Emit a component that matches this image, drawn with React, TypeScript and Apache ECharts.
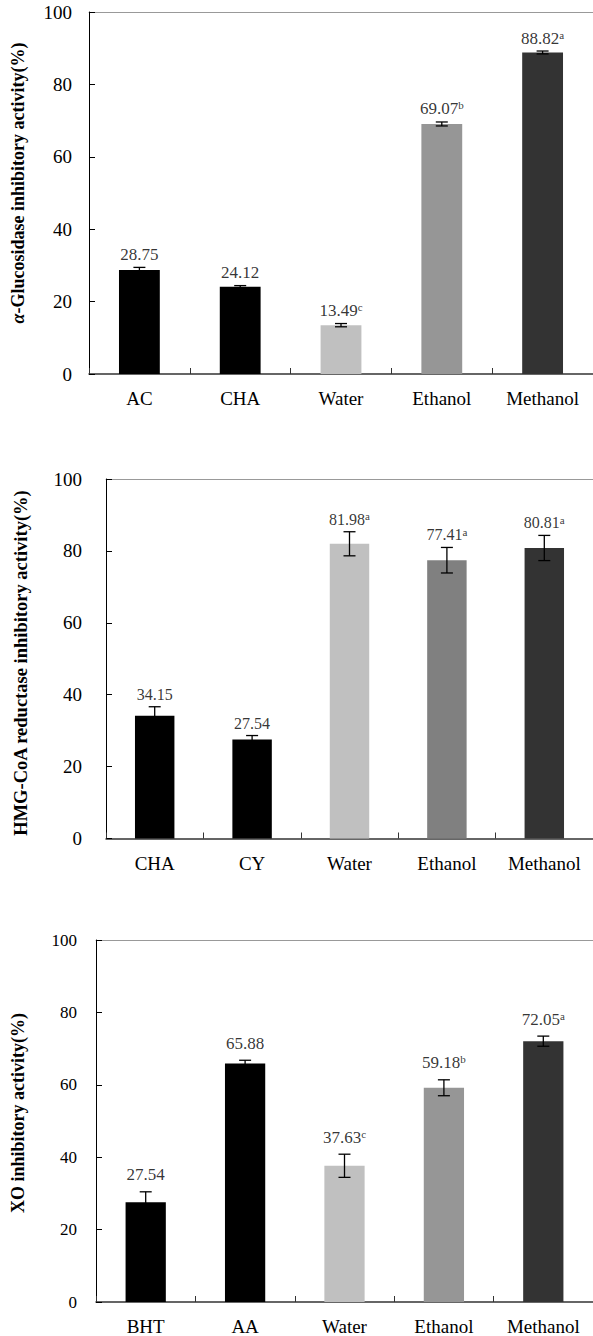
import React, { useEffect, useRef } from "react";
import * as echarts from "echarts";

// ---------- Data ----------
const cats1 = ["AC", "CHA", "Water", "Ethanol", "Methanol"];
const vals1 = [28.75, 24.12, 13.49, 69.07, 88.82];
const errs1 = [0.7, 0.3, 0.45, 0.55, 0.4];
const sups1 = ["", "", "c", "b", "a"];

const cats2 = ["CHA", "CY", "Water", "Ethanol", "Methanol"];
const vals2 = [34.15, 27.54, 81.98, 77.41, 80.81];
const errs2 = [2.5, 1.1, 3.35, 3.55, 3.5];
const sups2 = ["", "", "a", "a", "a"];

const cats3 = ["BHT", "AA", "Water", "Ethanol", "Methanol"];
const vals3 = [27.54, 65.88, 37.63, 59.18, 72.05];
const errs3 = [2.9, 0.9, 3.2, 2.2, 1.4];
const sups3 = ["", "", "c", "b", "a"];

const yTicks = [0, 20, 40, 60, 80, 100];

const titles = [
  "{i|α}-Glucosidase inhibitory activity(%)",
  "HMG-CoA reductase inhibitory activity(%)",
  "XO inhibitory activity(%)",
];

// ---------- Styles ----------
const SERIF = "'Liberation Serif', 'Times New Roman', serif";
const colors1 = ["#000000", "#000000", "#c0c0c0", "#969696", "#333333"];
const colors2 = ["#000000", "#000000", "#c0c0c0", "#808080", "#333333"];
const colors3 = ["#000000", "#000000", "#c0c0c0", "#969696", "#333333"];

const panels = [
  { cats: cats1, vals: vals1, errs: errs1, sups: sups1, colors: colors1,
    grid: { left: 89, top: 12, width: 505, height: 362 },
    tickFont: 19, tickMargin: 17, valFont: 17, labelDist: 4,
    title: { x: 17.5, y: 183, size: 18 } },
  { cats: cats2, vals: vals2, errs: errs2, sups: sups2, colors: colors2,
    grid: { left: 106, top: 479, width: 490, height: 359.5 },
    tickFont: 19, tickMargin: 24, valFont: 16, labelDist: 4,
    title: { x: 20.5, y: 663, size: 18.5 } },
  { cats: cats3, vals: vals3, errs: errs3, sups: sups3, colors: colors3,
    grid: { left: 96, top: 940, width: 501, height: 363.3 },
    tickFont: 17, tickMargin: 19, valFont: 17, labelDist: 8,
    title: { x: 17.5, y: 1113, size: 18 } },
];

export default function App() {
  const ref = useRef<HTMLDivElement>(null);

  useEffect(() => {
    if (!ref.current) return;
    const chart = echarts.init(ref.current, undefined, { renderer: "svg" });

    const grid: any[] = [];
    const xAxis: any[] = [];
    const yAxis: any[] = [];
    const series: any[] = [];
    const graphic: any[] = [];

    panels.forEach((p, k) => {
      grid.push({ ...p.grid, containLabel: false });
      xAxis.push({
        type: "category",
        gridIndex: k,
        data: p.cats,
        position: "bottom",
        axisLine: { show: true, lineStyle: { color: "#333333", width: 1.5 } },
        axisTick: { show: true, inside: true, length: 6, lineStyle: { color: "#333333", width: 1 } },
        axisLabel: { margin: 15, fontSize: 19, color: "#000", fontFamily: SERIF },
        splitLine: { show: false },
      });
      xAxis.push({
        type: "category",
        gridIndex: k,
        data: p.cats,
        position: "top",
        axisLine: { show: true, lineStyle: { color: "#999999", width: 1 } },
        axisTick: { show: false },
        axisLabel: { show: false },
        splitLine: { show: false },
      });
      yAxis.push({
        type: "value",
        gridIndex: k,
        min: yTicks[0],
        max: yTicks[yTicks.length - 1],
        interval: yTicks[1] - yTicks[0],
        axisLine: { show: true, lineStyle: { color: "#000", width: 1 } },
        axisTick: { show: true, inside: true, length: 6, lineStyle: { color: "#000", width: 1 } },
        axisLabel: { margin: p.tickMargin, fontSize: p.tickFont, color: "#000", fontFamily: SERIF },
        splitLine: { show: false },
      });

      const xi = k * 2;
      series.push({
        type: "bar",
        xAxisIndex: xi,
        yAxisIndex: k,
        data: p.vals,
        barWidth: "40.5%",
        itemStyle: { color: (q: any) => p.colors[q.dataIndex] },
        silent: true,
        z: 2,
      });
      series.push({
        type: "custom",
        xAxisIndex: xi,
        yAxisIndex: k,
        data: p.vals.map((v, i) => [i, v, p.errs[i]]),
        encode: { x: 0, y: 1 },
        z: 3,
        silent: true,
        renderItem: (params: any, api: any) => {
          const x = api.value(0);
          const v = api.value(1);
          const e = api.value(2);
          const t = api.coord([x, v + e]);
          const b = api.coord([x, v - e]);
          const hw = 6;
          const st = { stroke: "#000", lineWidth: 1.3 };
          return {
            type: "group",
            children: [
              { type: "line", shape: { x1: t[0], y1: t[1], x2: b[0], y2: b[1] }, style: st },
              { type: "line", shape: { x1: t[0] - hw, y1: t[1], x2: t[0] + hw, y2: t[1] }, style: st },
              { type: "line", shape: { x1: b[0] - hw, y1: b[1], x2: b[0] + hw, y2: b[1] }, style: st },
            ],
          };
        },
      });
      series.push({
        type: "scatter",
        xAxisIndex: xi,
        yAxisIndex: k,
        data: p.vals.map((v, i) => [i, v + p.errs[i]]),
        symbolSize: 0,
        silent: true,
        z: 4,
        label: {
          show: true,
          position: "top",
          distance: p.labelDist,
          formatter: (q: any) => {
            const i = q.dataIndex;
            const s = p.sups[i];
            return "{v|" + p.vals[i].toFixed(2) + "}" + (s ? "{s|" + s + "}" : "");
          },
          rich: {
            v: { fontSize: p.valFont, fontFamily: SERIF, color: "#000", lineHeight: p.valFont + 1 },
            s: { fontSize: 11, fontFamily: SERIF, color: "#000", lineHeight: 11, verticalAlign: "top" },
          },
        },
      });

      graphic.push({
        type: "text",
        x: p.title.x,
        y: p.title.y,
        rotation: Math.PI / 2,
        silent: true,
        style: {
          text: titles[k],
          fontSize: p.title.size,
          fontWeight: "bold",
          fontFamily: SERIF,
          fill: "#000",
          align: "center",
          verticalAlign: "middle",
          rich: {
            i: { fontSize: p.title.size, fontWeight: "bold", fontStyle: "italic", fontFamily: SERIF, fill: "#000" },
          },
        },
      });
    });

    chart.setOption({
      animation: false,
      backgroundColor: "#ffffff",
      grid,
      xAxis,
      yAxis,
      series,
      graphic,
    });

    return () => chart.dispose();
  }, []);

  return (
    <div
      ref={ref}
      style={{ position: "absolute", left: 0, top: 0, width: 593, height: 1336 }}
    />
  );
}
